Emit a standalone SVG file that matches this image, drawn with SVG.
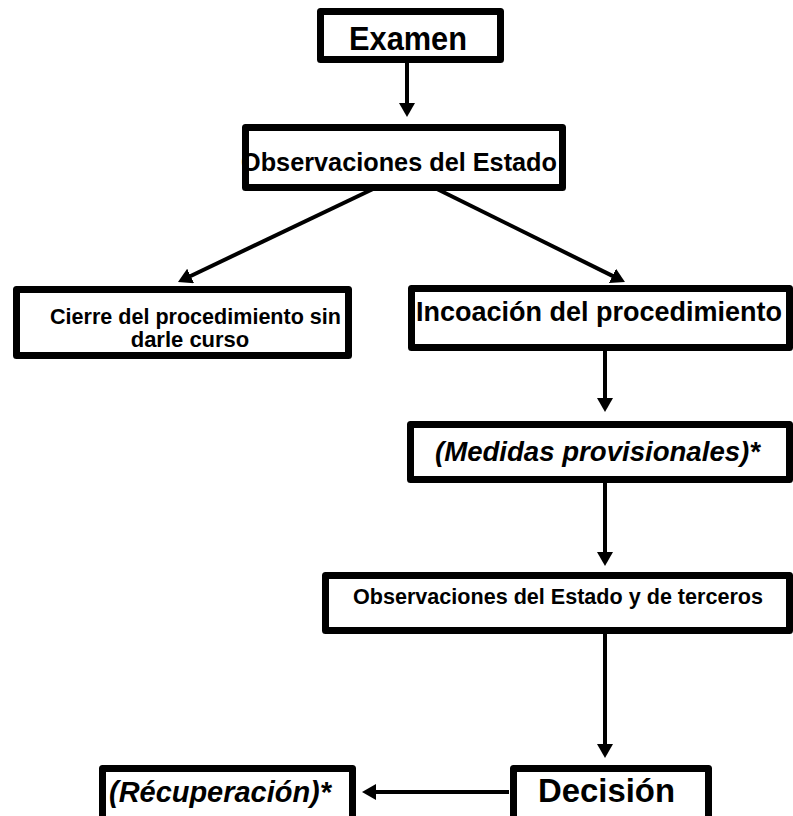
<svg xmlns="http://www.w3.org/2000/svg" width="793" height="816" viewBox="0 0 793 816">
<defs>
<style>
.box{fill:#fff;stroke:none}
.border{fill:none;stroke:#000;stroke-width:7;stroke-linejoin:round}
.t{font-family:"Liberation Sans",Arial,sans-serif;font-weight:bold;fill:#000}
.i{font-style:italic}
.c{fill:none;stroke:#000;stroke-width:4}
</style>
<marker id="ah" markerUnits="userSpaceOnUse" markerWidth="14" markerHeight="16" viewBox="0 0 14 16" refX="4" refY="8" orient="auto">
<path d="M0,0 L14,8 L0,16 Z" fill="#000"/>
</marker>
</defs>
<rect width="793" height="816" fill="#fff"/>
<g id="connectors">
<path class="c" d="M407,63 V107" marker-end="url(#ah)"/>
<path class="c" d="M373,189 L187,277.7" marker-end="url(#ah)"/>
<path class="c" d="M437,189 L616,277.6" marker-end="url(#ah)"/>
<path class="c" d="M605,350 V402" marker-end="url(#ah)"/>
<path class="c" d="M605,482 V556" marker-end="url(#ah)"/>
<path class="c" d="M605,633 V748" marker-end="url(#ah)"/>
<path class="c" d="M509,792 H372" marker-end="url(#ah)"/>
</g>
<g id="examen">
<rect class="box" x="320.5" y="11.5" width="180" height="48"/>
<text class="t" x="349" y="50" font-size="33" textLength="118" lengthAdjust="spacingAndGlyphs">Examen</text>
<rect class="border" x="320.5" y="11.5" width="180" height="48"/>
</g>
<g id="observaciones">
<rect class="box" x="245.5" y="127.5" width="317" height="60"/>
<text class="t" x="241" y="171" font-size="26" textLength="316" lengthAdjust="spacingAndGlyphs">Observaciones del Estado</text>
<rect class="border" x="245.5" y="127.5" width="317" height="60"/>
</g>
<g id="cierre">
<rect class="box" x="16.5" y="289.5" width="332" height="66"/>
<text class="t" x="50" y="324" font-size="22" textLength="291" lengthAdjust="spacingAndGlyphs">Cierre del procedimiento sin</text>
<text class="t" x="190" y="347" font-size="22" text-anchor="middle">darle curso</text>
<rect class="border" x="16.5" y="289.5" width="332" height="66"/>
</g>
<g id="incoacion">
<rect class="box" x="411.5" y="288.5" width="378" height="59"/>
<text class="t" x="416" y="321" font-size="28" textLength="366" lengthAdjust="spacingAndGlyphs">Incoación del procedimiento</text>
<rect class="border" x="411.5" y="288.5" width="378" height="59"/>
</g>
<g id="medidas">
<rect class="box" x="410.5" y="424.5" width="379" height="55"/>
<text class="t i" x="435" y="461" font-size="28" textLength="325" lengthAdjust="spacingAndGlyphs">(Medidas provisionales)*</text>
<rect class="border" x="410.5" y="424.5" width="379" height="55"/>
</g>
<g id="observaciones-terceros">
<rect class="box" x="325.5" y="575.5" width="464" height="55"/>
<text class="t" x="353" y="604" font-size="22" textLength="410" lengthAdjust="spacingAndGlyphs">Observaciones del Estado y de terceros</text>
<rect class="border" x="325.5" y="575.5" width="464" height="55"/>
</g>
<g id="decision">
<rect class="box" x="513.5" y="768.5" width="195" height="60"/>
<text class="t" x="538" y="802" font-size="33" textLength="137" lengthAdjust="spacingAndGlyphs">Decisión</text>
<rect class="border" x="513.5" y="768.5" width="195" height="60"/>
</g>
<g id="recuperacion">
<rect class="box" x="102.5" y="768.5" width="250" height="60"/>
<text class="t i" x="109" y="802" font-size="30" textLength="222" lengthAdjust="spacingAndGlyphs">(Récuperación)*</text>
<rect class="border" x="102.5" y="768.5" width="250" height="60"/>
</g>
</svg>
